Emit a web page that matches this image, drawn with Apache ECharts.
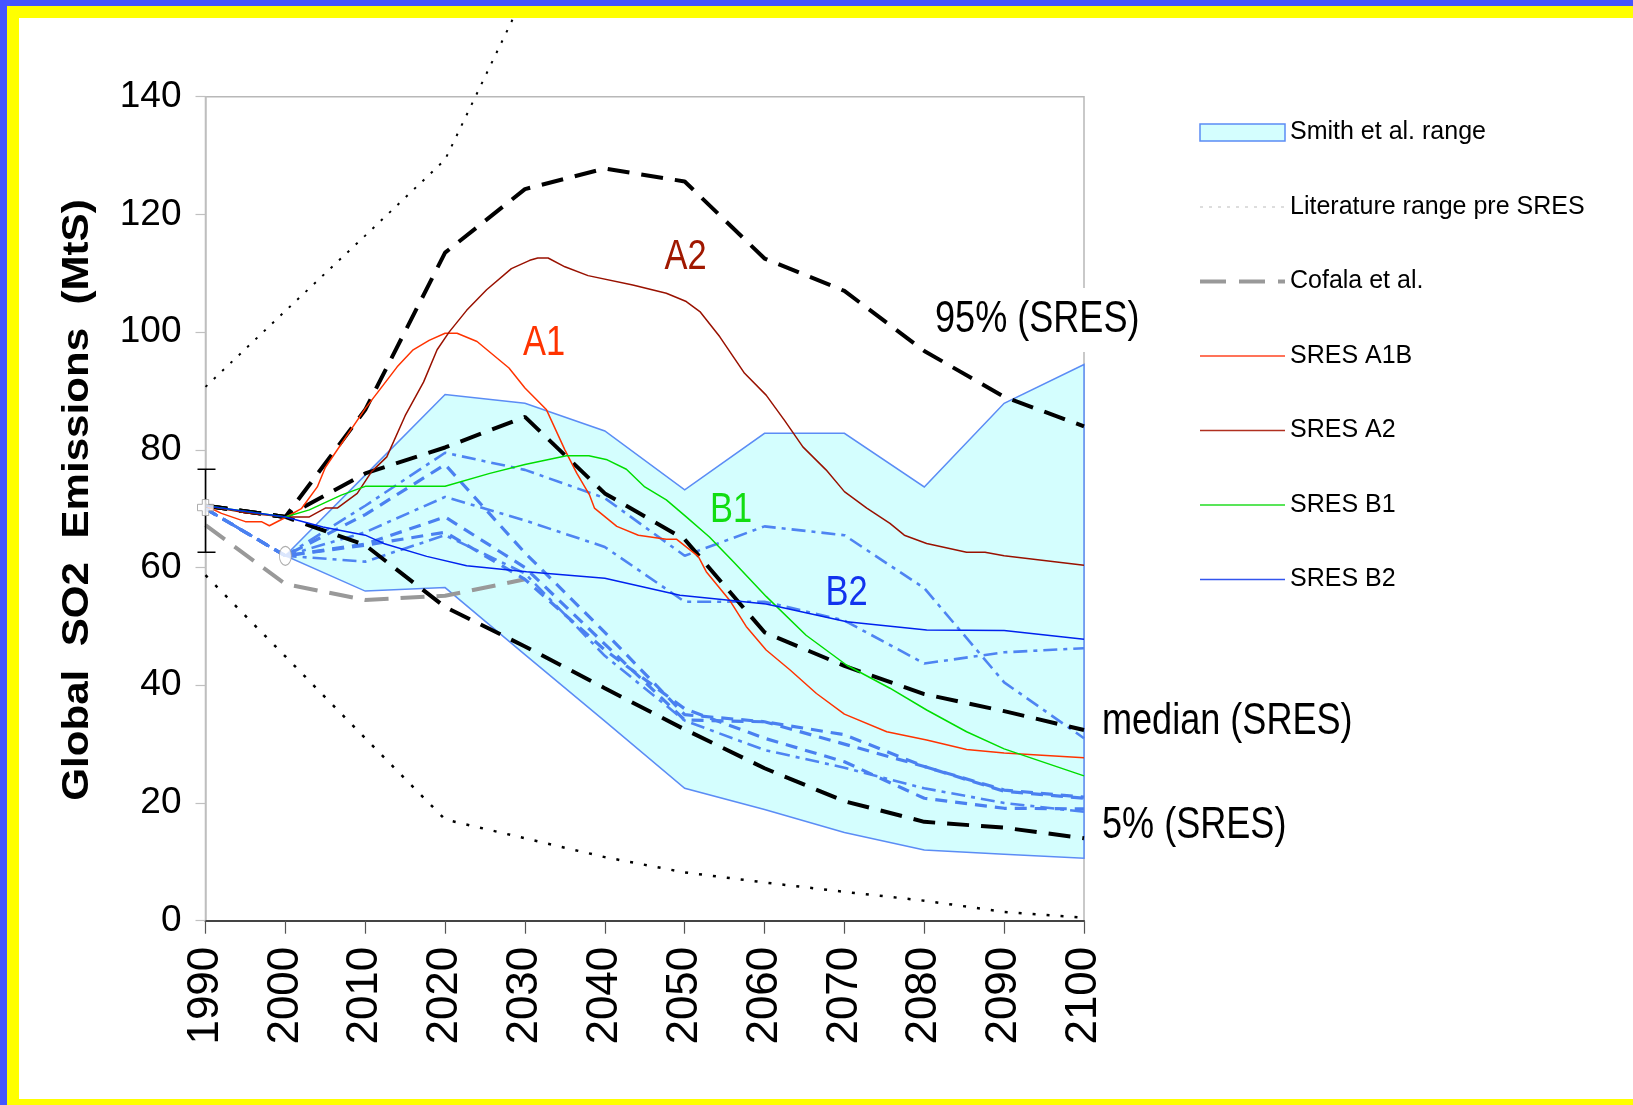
<!DOCTYPE html>
<html><head><meta charset="utf-8">
<script src="https://cdn.jsdelivr.net/npm/echarts@6/dist/echarts.min.js"></script>
<style>html,body{margin:0;padding:0;background:#fff}#c{width:1633px;height:1105px}</style>
</head><body><div id="c"></div>
<script>
// ---------- data ----------
const decades = [1990,2000,2010,2020,2030,2040,2050,2060,2070,2080,2090,2100];
const smithYears = [2000,2010,2020,2030,2040,2050,2060,2070,2080,2090,2100];
const smithUpper = [62,75.7,89.4,87.9,83.2,73.2,82.8,82.8,73.7,87.9,94.5];
const smithLower = [62,56.0,56.6,45.2,33.9,22.5,18.9,15.0,12.0,11.3,10.6];
const litHighYears = [1990,2000,2010,2020,2030];
const litHigh = [90.7,103.6,116.4,129.3,157.5];
const litLow = [58.7,44.9,31.0,17.2,14.0,10.8,8.2,6.5,4.9,3.4,1.5,0.5];
const cofalaYears = [1990,2000,2010,2020,2030];
const cofala = [67.2,57.2,54.5,55.2,58.0];
const sres95 = [70.5,68.6,86.8,113.5,124.3,127.8,125.6,112.5,107.0,96.8,89.0,84.0];
const sresMedian = [70.5,68.6,76.0,80.4,85.6,72.6,64.8,49.0,43.3,38.5,35.6,32.4];
const sres5 = [70.5,68.6,63.8,53.3,46.6,39.5,32.5,25.9,20.3,16.8,15.8,14.0];
const a1bYears = [1990,1992,1995,1997,1998,2000,2002,2004,2005,2010,2014,2016,2018,2020,2021.5,2024,2028,2030,2032.7,2035,2036.5,2038.1,2038.7,2041.5,2044.2,2047.7,2049,2051.7,2052.7,2055.6,2057.7,2060.2,2063.2,2066.5,2070,2075.3,2080.3,2085.3,2090,2100];
const a1b = [70.5,69.2,67.8,67.8,67.1,68.5,70.0,73.7,77.0,87.0,94.1,97.0,98.6,99.8,99.8,98.4,93.9,90.5,86.8,80.0,76.0,72.3,70.1,67.0,65.5,64.8,64.8,61.9,59.3,54.5,50.0,46.0,42.6,38.6,35.1,32.1,30.7,29.1,28.5,27.7];
const a2Years = [1990,1995,2000,2003,2005,2006.5,2009,2010.8,2012.7,2015,2017.3,2019,2020.5,2022.7,2025.2,2028.3,2030.6,2031.6,2032.9,2035,2037.9,2043.5,2047.7,2050.2,2051.9,2054.4,2057.5,2060.2,2062.5,2064.8,2067.7,2070,2072.8,2075.7,2077.5,2080.3,2085.3,2087.6,2090,2100];
const a2 = [70.5,69.3,68.6,68.6,70.1,70.1,72.6,76.3,78.8,85.8,91.5,97.0,100.0,103.7,107.2,110.8,112.2,112.6,112.6,111.1,109.6,108.0,106.6,105.2,103.5,99.2,93.0,89.3,85.0,80.5,76.6,72.9,70.1,67.5,65.5,64.1,62.6,62.6,62.0,60.4];
const b1Years = [1990,2000,2003,2007,2010,2020,2025.6,2030,2035.2,2038,2040.3,2042.7,2045,2047.7,2050.2,2053.1,2056.1,2060.2,2065.2,2070.3,2075.7,2080.3,2085.3,2090,2100];
const b1 = [70.5,68.6,69.8,72.3,73.8,73.8,76.0,77.5,79.0,79.0,78.3,76.7,73.7,71.5,68.6,65.2,61.0,55.1,48.5,43.4,39.5,35.8,32.1,29.2,24.6];
const b2Years = [1990,2000,2004.7,2010,2012.3,2017.7,2022.7,2030.2,2040,2049.4,2060.2,2070.3,2080.3,2090,2100];
const b2 = [70.5,68.6,66.9,65.5,64.1,61.9,60.3,59.3,58.2,55.3,53.8,50.8,49.4,49.3,47.8];
const scenA = [70,62,70.5,79.5,76.6,71.8,62.0,67.0,65.5,56.5,40.5,31.0];
const scenB = [70,62,69.0,77.5,62.5,49.0,35.0,33.8,30.0,26.2,22.0,20.8];
const scenC = [70,62,66.0,72.0,68.0,63.5,54.2,54.2,51.0,43.7,45.6,46.3];
const scenD = [70,62,64.0,68.6,60.0,47.0,34.1,33.8,31.6,26.2,22.2,21.0];
const scenE = [70,62,61.0,65.5,59.0,45.0,34.0,29.0,26.0,22.5,20.0,18.5];
const scenF = [70,62,63.8,66.0,58.0,46.0,36.0,31.0,27.0,20.8,19.1,19.0];
const obs1990 = [1990,70.2], obsLow = 62.6, obsHigh = 76.7;
const obs2000 = [2000,62.0];

// ---------- chart ----------
const FONT = "'Liberation Sans',Arial,sans-serif";
const NARROW = 0.82;
const pair = (xs, ys) => xs.map((x, i) => [x, ys[i]]);
const chart = echarts.init(document.getElementById('c'));

const scenList = [scenA, scenB, scenC, scenD, scenE, scenF].map((arr, k) => ({
  type:'line', data: pair(decades, arr), symbol:'none', z:3, silent:true,
  lineStyle: k % 2 ? {color:'#4A80F0', width:3.2, type:[12,8]} : {color:'#4E84F2', width:2.6, type:[14,6,4,6]}
}));

const blackDash = {color:'#000', width:4, type:[22,12]};
const note = (text, x, y, size, color, align) => ({type:'text', z:50, x, y, scaleX:NARROW,
  style:{text, font:size + 'px ' + FONT, fill:color, textAlign:align, textVerticalAlign:'middle'}});

const option = {
  animation:false,
  backgroundColor:'#fff',
  grid:{left:205.5, right:549, top:96.7, bottom:184.3, show:true, borderColor:'#B8B8B8', borderWidth:1.5, backgroundColor:'transparent'},
  xAxis:{type:'value', min:1990, max:2100, interval:10,
    axisLine:{show:true, lineStyle:{color:'#444', width:2}},
    axisTick:{show:true, length:13, lineStyle:{color:'#555', width:1.2}},
    splitLine:{show:false},
    axisLabel:{rotate:90, margin:26, fontFamily:FONT, fontSize:44, color:'#000', formatter: v => String(v)}
  },
  yAxis:{type:'value', min:0, max:140, interval:20,
    axisLine:{show:true, lineStyle:{color:'#C0C0C0', width:1.5}},
    axisTick:{show:true, length:10, lineStyle:{color:'#C0C0C0', width:1.2}},
    splitLine:{show:false},
    axisLabel:{margin:24, fontFamily:FONT, fontSize:37, color:'#000'}
  },
  legend:{orient:'vertical', left:1198, top:117.5, padding:0, itemWidth:85, itemHeight:17, itemGap:44.5,
    textStyle:{fontFamily:FONT, fontSize:25, color:'#000', lineHeight:30},
    itemStyle:{opacity:0},
    selectedMode:false,
    data:[
      {name:'Smith et al. range', icon:'rect', itemStyle:{color:'#D4FEFE', borderColor:'#5B8CF5', borderWidth:1.5, opacity:1}},
      {name:'Literature range pre SRES', lineStyle:{color:'#BBBBBB', width:1, type:[3,6]}},
      {name:'Cofala et al.', lineStyle:{color:'#999999', width:4, type:[26,13]}},
      {name:'SRES A1B', lineStyle:{color:'#FF4422', width:1.5, type:'solid'}},
      {name:'SRES A2', lineStyle:{color:'#B03020', width:1.5, type:'solid'}},
      {name:'SRES B1', lineStyle:{color:'#22DD22', width:1.5, type:'solid'}},
      {name:'SRES B2', lineStyle:{color:'#3355EE', width:1.5, type:'solid'}}
    ]
  },
  graphic:[
    {type:'rect', z:100, shape:{x:0, y:0, width:1633, height:6}, style:{fill:'#4455FF'}},
    {type:'rect', z:100, shape:{x:0, y:0, width:7, height:1105}, style:{fill:'#4455FF'}},
    {type:'rect', z:100, shape:{x:7, y:6, width:1626, height:12}, style:{fill:'#FFFF00'}},
    {type:'rect', z:100, shape:{x:7, y:6, width:12, height:1099}, style:{fill:'#FFFF00'}},
    {type:'rect', z:100, shape:{x:7, y:1099, width:1626, height:6}, style:{fill:'#FFFF00'}},
    {type:'text', z:50, x:78, y:500, rotation:Math.PI/2, scaleX:1.17, style:{text:'Global  SO2  Emissions  (MtS)', font:"bold 36px 'Liberation Sans',Arial,sans-serif", fill:'#000', textAlign:'center', textVerticalAlign:'middle'}},
    {type:'rect', z:49, shape:{x:930, y:288, width:214, height:64}, style:{fill:'#fff'}},
    note('95% (SRES)', 935, 320, 44, '#000', 'left'),
    note('median (SRES)', 1102, 722, 44, '#000', 'left'),
    note('5% (SRES)', 1102, 826, 44, '#000', 'left'),
    note('A1', 544, 343, 42, '#FF3300', 'center'),
    note('A2', 685.5, 257, 42, '#A01800', 'center'),
    note('B1', 731, 510, 42, '#11DD11', 'center'),
    note('B2', 846.5, 593, 42, '#1133EE', 'center')
  ],
  series:[
    {name:'Smith et al. range', type:'custom', z:1, silent:true, data:[[2000,62]],
      itemStyle:{color:'#D4FEFE'},
      renderItem:(params, api) => {
        const up = smithYears.map((y, i) => api.coord([y, smithUpper[i]]));
        const lo = smithYears.map((y, i) => api.coord([y, smithLower[i]])).reverse();
        return {type:'polygon', shape:{points: up.concat(lo)}, style:{fill:'#D4FEFE', stroke:'#5B8CF5', lineWidth:1.5}};
      }},
    {name:'Literature range pre SRES', type:'line', symbol:'none', clip:false, z:2, silent:true,
      data: pair(litHighYears, litHigh), lineStyle:{color:'#000', width:2, type:[2.5,9]}},
    {name:'Literature range pre SRES', type:'line', symbol:'none', z:2, silent:true,
      data: pair(decades, litLow), lineStyle:{color:'#000', width:2.5, type:[3,11]}},
    {name:'Cofala et al.', type:'line', symbol:'none', z:2, silent:true,
      data: pair(cofalaYears, cofala), lineStyle:{color:'#999', width:4, type:[24,12]}},
    ...scenList,
    {type:'line', symbol:'none', z:4, silent:true, data: pair(decades, sres95), lineStyle:blackDash},
    {type:'line', symbol:'none', z:4, silent:true, data: pair(decades, sresMedian), lineStyle:blackDash},
    {type:'line', symbol:'none', z:4, silent:true, data: pair(decades, sres5), lineStyle:blackDash},
    {name:'SRES A1B', type:'line', symbol:'none', z:5, silent:true, data: pair(a1bYears, a1b), lineStyle:{color:'#FF3300', width:1.5}},
    {name:'SRES A2', type:'line', symbol:'none', z:5, silent:true, data: pair(a2Years, a2), lineStyle:{color:'#991100', width:1.5}},
    {name:'SRES B1', type:'line', symbol:'none', z:5, silent:true, data: pair(b1Years, b1), lineStyle:{color:'#00DD00', width:1.5}},
    {name:'SRES B2', type:'line', symbol:'none', z:5, silent:true, data: pair(b2Years, b2), lineStyle:{color:'#0022EE', width:1.5}},
    {type:'custom', z:6, silent:true, clip:false, data:[[obs1990[0], obsLow, obsHigh]],
      renderItem:(params, api) => {
        const lo = api.coord([api.value(0), api.value(1)]);
        const hi = api.coord([api.value(0), api.value(2)]);
        const s = {stroke:'#000', lineWidth:1.5};
        return {type:'group', children:[
          {type:'line', shape:{x1:lo[0], y1:lo[1], x2:hi[0], y2:hi[1]}, style:s},
          {type:'line', shape:{x1:lo[0]-8, y1:lo[1], x2:lo[0]+10, y2:lo[1]}, style:s},
          {type:'line', shape:{x1:hi[0]-8, y1:hi[1], x2:hi[0]+10, y2:hi[1]}, style:s}
        ]};
      }},
    {type:'scatter', z:7, silent:true, clip:false, data:[obs1990], symbol:'path://M3,0H7V3H10V7H7V10H3V7H0V3H3Z', symbolSize:16,
      itemStyle:{color:'#fff', borderColor:'#999', borderWidth:1}},
    {type:'scatter', z:7, silent:true, data:[obs2000], symbol:'circle', symbolSize:[12,19],
      itemStyle:{color:'#fff', borderColor:'#999', borderWidth:1}}
  ]
};
chart.setOption(option);
</script></body></html>
